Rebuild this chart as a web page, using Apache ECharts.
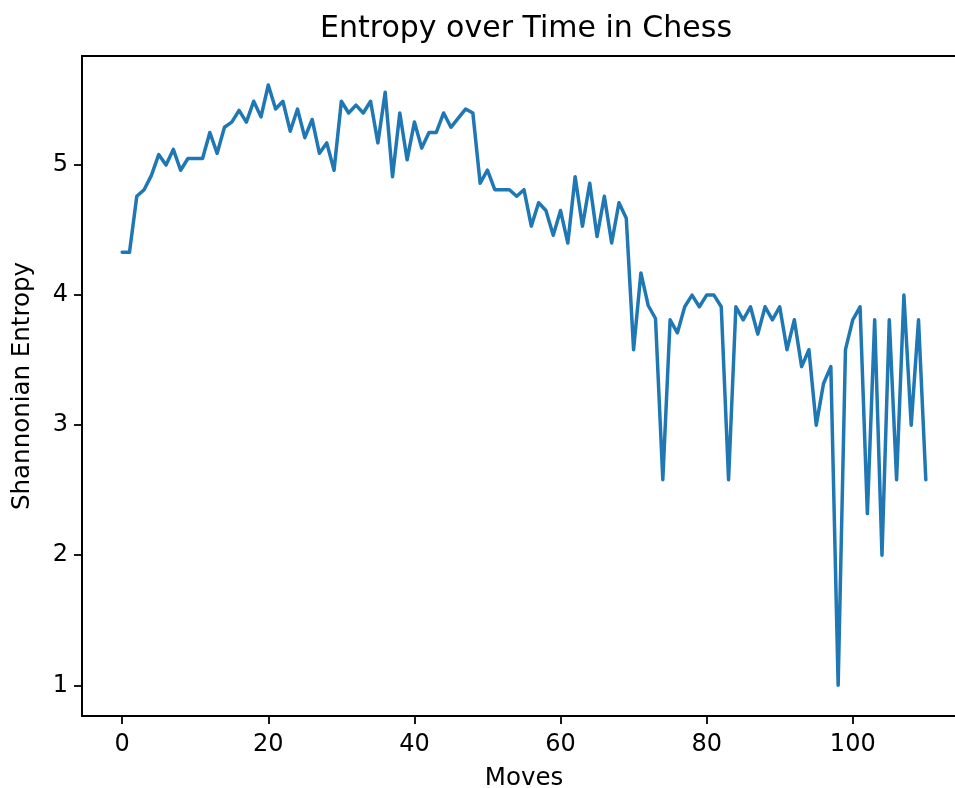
<!DOCTYPE html>
<html>
<head>
<meta charset="utf-8">
<script src="https://cdn.jsdelivr.net/npm/echarts@6/dist/echarts.min.js"></script>
<style>
html,body{margin:0;padding:0;background:#fff;}
#chart{width:955px;height:788px;}
</style>
</head>
<body>
<div id="chart"></div>
<script>
// Shannon entropy per move (move index = position in array)
const entropy = [
  4.33, 4.33, 4.76, 4.81, 4.92, 5.08, 5.00, 5.12, 4.96, 5.05,
  5.05, 5.05, 5.25, 5.09, 5.29, 5.33, 5.42, 5.33, 5.49, 5.37,
  5.615, 5.43, 5.49, 5.26, 5.43, 5.21, 5.35, 5.09, 5.17, 4.96,
  5.49, 5.40, 5.46, 5.40, 5.49, 5.17, 5.56, 4.91, 5.40, 5.04,
  5.33, 5.13, 5.25, 5.25, 5.40, 5.29, 5.36, 5.43, 5.40, 4.86,
  4.96, 4.81, 4.81, 4.81, 4.76, 4.81, 4.53, 4.71, 4.65, 4.46,
  4.65, 4.40, 4.91, 4.53, 4.86, 4.45, 4.76, 4.40, 4.71, 4.59,
  3.58, 4.17, 3.92, 3.82, 2.58, 3.81, 3.71, 3.91, 4.00, 3.91,
  4.00, 4.00, 3.91, 2.58, 3.91, 3.81, 3.91, 3.70, 3.91, 3.81,
  3.91, 3.58, 3.81, 3.45, 3.58, 3.00, 3.32, 3.45, 1.00, 3.58,
  3.81, 3.91, 2.32, 3.81, 2.00, 3.81, 2.58, 4.00, 3.00, 3.81,
  2.58
];
const xTicks = [0, 20, 40, 60, 80, 100];
const yTicks = [1, 2, 3, 4, 5];
const titleText = 'Entropy over Time in Chess';
const xName = 'Moves';
const yName = 'Shannonian Entropy';

const points = entropy.map((v, i) => [i, v]);
const FONT = 'DejaVu Sans';

const chart = echarts.init(document.getElementById('chart'), null, {renderer: 'canvas'});
chart.setOption({
  animation: false,
  backgroundColor: '#ffffff',
  title: {
    text: titleText,
    left: 320,
    top: 14,
    padding: 0,
    textStyle: {fontFamily: FONT, fontSize: 30, fontWeight: 'normal', color: '#000'}
  },
  grid: {
    left: 82, right: -11, top: 56, bottom: 72,
    containLabel: false,
    outerBoundsMode: 'none',
    show: true,
    borderColor: '#000',
    borderWidth: 1.8,
    backgroundColor: 'transparent'
  },
  xAxis: {
    type: 'value',
    min: -5.5, max: 115.5,
    name: xName,
    nameLocation: 'middle',
    nameGap: 50,
    nameTextStyle: {fontFamily: FONT, fontSize: 24.5, color: '#000'},
    axisLine: {show: true, onZero: false, lineStyle: {color: '#000', width: 1.8}},
    axisTick: {show: true, length: 8, lineStyle: {color: '#000', width: 1.8}, customValues: xTicks},
    axisLabel: {fontFamily: FONT, fontSize: 24, color: '#000', margin: 17, customValues: xTicks},
    splitLine: {show: false}
  },
  yAxis: {
    type: 'value',
    min: 0.764, max: 5.838,
    name: yName,
    nameLocation: 'middle',
    nameGap: 47,
    nameRotate: 90,
    nameTextStyle: {fontFamily: FONT, fontSize: 24.5, color: '#000'},
    axisLine: {show: true, onZero: false, lineStyle: {color: '#000', width: 1.8}},
    axisTick: {show: true, length: 8, lineStyle: {color: '#000', width: 1.8}, customValues: yTicks},
    axisLabel: {fontFamily: FONT, fontSize: 24, color: '#000', margin: 14, customValues: yTicks},
    splitLine: {show: false}
  },
  series: [{
    type: 'line',
    data: points,
    showSymbol: false,
    symbol: 'none',
    lineStyle: {color: '#1f77b4', width: 3.5, join: 'round', cap: 'round'},
    itemStyle: {color: '#1f77b4'}
  }]
});
</script>
</body>
</html>
